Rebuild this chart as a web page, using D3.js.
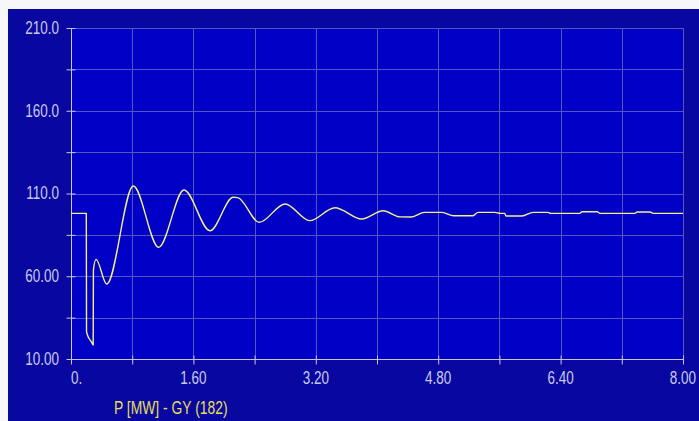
<!DOCTYPE html>
<html><head><meta charset="utf-8">
<script src="https://cdn.jsdelivr.net/npm/d3@7"></script>
<style>html,body{margin:0;padding:0;background:#fafafa;overflow:hidden}</style>
</head><body>
<svg id="chart" width="699" height="421"></svg>
<script>
// Time (s) and active power P [MW] of generator GY (182)
const timeS = [0, 0.200, 0.203, 0.235, 0.265, 0.290, 0.293, 0.327, 0.467, 0.815, 1.146, 1.477, 1.817, 2.120, 2.180, 2.460, 2.800, 3.120, 3.450, 3.800, 4.080, 4.300, 4.450, 4.620, 4.850, 5.000, 5.255, 5.320, 5.540, 5.610, 5.670, 5.686, 5.895, 6.040, 6.235, 6.270, 6.650, 6.680, 6.876, 6.915, 7.370, 7.400, 7.570, 7.610, 8.000];
const powerMW = [98, 98, 26.5, 22.5, 20.5, 18.5, 64, 70.2, 55.3, 114.5, 77.5, 112.1, 87.5, 107.7, 107.5, 92.6, 103.7, 93.6, 101.4, 94.6, 99.6, 95.9, 95.8, 98.6, 98.6, 96.6, 96.6, 98.6, 98.6, 98, 98, 96.4, 96.4, 98.6, 98.6, 98, 98, 99, 99, 98, 98, 98.8, 98.8, 98, 98];
const xTickLabels = ["0.", "1.60", "3.20", "4.80", "6.40", "8.00"];
const xTickValues = [0, 1.6, 3.2, 4.8, 6.4, 8.0];
const yTickLabels = ["10.00", "60.00", "110.0", "160.0", "210.0"];
const yTickValues = [10, 60, 110, 160, 210];
const seriesName = "P [MW] - GY (182)";

const svg = d3.select("#chart");
const W = 699, H = 421;
const plot = {l: 71, r: 683, t: 28, b: 359};

const x = d3.scaleLinear().domain([0, 8]).range([plot.l, plot.r]);
const y = d3.scaleLinear().domain([10, 210]).range([plot.b, plot.t]);

// frame
svg.append("rect").attr("x", 0).attr("y", 0).attr("width", W).attr("height", H).attr("fill", "#f7f7f9");
svg.append("rect").attr("x", 8).attr("y", 9).attr("width", W - 8).attr("height", H - 9).attr("fill", "#0808a0");
svg.append("rect").attr("x", plot.l).attr("y", plot.t).attr("width", plot.r - plot.l).attr("height", plot.b - plot.t).attr("fill", "#0000c6");

const minorX = d3.range(0, 8.0001, 0.8);
const minorY = d3.range(10, 210.0001, 25);

// gridlines
const grid = svg.append("g").attr("stroke", "#5656c0").attr("stroke-width", 1).attr("shape-rendering", "crispEdges");
grid.selectAll(".gx").data(minorX.slice(1)).enter().append("line")
  .attr("x1", d => Math.round(x(d)) + 0.5).attr("x2", d => Math.round(x(d)) + 0.5)
  .attr("y1", plot.t).attr("y2", plot.b);
grid.selectAll(".gy").data(minorY.slice(1)).enter().append("line")
  .attr("y1", d => Math.round(y(d)) + 0.5).attr("y2", d => Math.round(y(d)) + 0.5)
  .attr("x1", plot.l).attr("x2", plot.r);

// axes
const axisColor = "#c4c4e4";
const xAxis = svg.append("g").attr("transform", `translate(0,${plot.b + 0.5})`)
  .call(d3.axisBottom(x).tickValues(minorX).tickSize(5).tickFormat(""));
xAxis.select(".domain").attr("stroke", axisColor).attr("d", `M${plot.l},0H${plot.r}`);
xAxis.selectAll(".tick line").attr("stroke", axisColor).attr("y1", -4);

const yAxis = svg.append("g").attr("transform", `translate(${plot.l + 0.5},0)`)
  .call(d3.axisLeft(y).tickValues(minorY).tickSize(5).tickFormat(""));
yAxis.select(".domain").attr("stroke", axisColor).attr("d", `M0,${plot.t}V${plot.b}`);
yAxis.selectAll(".tick line").attr("stroke", axisColor).attr("x1", 4);

const fontFam = "'Liberation Sans','Arial',sans-serif";
const squeeze = 0.71;
const fs = 19;
// x labels
svg.append("g").selectAll("text").data(xTickValues).enter().append("text")
  .attr("transform", d => `translate(${x(d)},384) scale(${squeeze},1)`)
  .attr("text-anchor", (d, i) => i === 0 ? "start" : "middle")
  .attr("font-family", fontFam).attr("font-size", fs).attr("fill", "#c8c8e8")
  .text((d, i) => xTickLabels[i]);

// y labels
svg.append("g").selectAll("text").data(yTickValues).enter().append("text")
  .attr("transform", d => `translate(59,${y(d) + 5.8}) scale(${squeeze},1)`)
  .attr("text-anchor", "end")
  .attr("font-family", fontFam).attr("font-size", fs).attr("fill", "#c8c8e8")
  .text((d, i) => yTickLabels[i]);

// series
const pts = timeS.map((t, i) => [t, powerMW[i]]);
const line = d3.line().x(d => x(d[0])).y(d => y(d[1])).curve(d3.curveMonotoneX);
svg.append("path").datum(pts).attr("d", line)
  .attr("fill", "none").attr("stroke", "#f4f08a").attr("stroke-width", 1.4).attr("stroke-linejoin", "round");

// legend
svg.append("text").attr("transform", `translate(114,413.5) scale(0.73,1)`)
  .attr("font-family", fontFam).attr("font-size", fs).attr("fill", "#e6de5a")
  .text(seriesName);
</script>
</body></html>
